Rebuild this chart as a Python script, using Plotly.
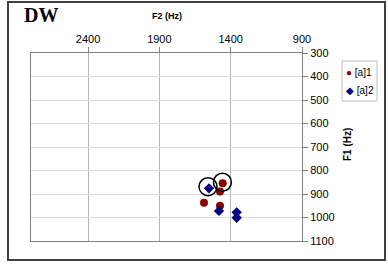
import plotly.graph_objects as go

# Data (F2, F1 in Hz)
series_names = ["[a]1", "[a]2"]
a1_f2 = [1456, 1475, 1587, 1475]
a1_f1 = [854, 889, 937, 950]
a2_f2 = [1552, 1482, 1358, 1358]
a2_f1 = [876, 972, 978, 1001]
ring_f2 = [1559, 1458]
ring_f1 = [869, 850]

x_ticks = [2400, 1900, 1400, 900]
y_ticks = [300, 400, 500, 600, 700, 800, 900, 1000, 1100]

RED, BLUE = "#8b0000", "#000080"
W, H = 388, 264
L, R, T, B = 31, 302, 53, 241
PW, PH = R - L, B - T


def px(x):
    return (x - L) / PW


def py(y):
    return (B - y) / PH


fig = go.Figure()
fig.add_trace(go.Scatter(x=a1_f2, y=a1_f1, mode="markers", name=series_names[0],
                         marker=dict(symbol="circle", size=8, color=RED)))
fig.add_trace(go.Scatter(x=a2_f2, y=a2_f1, mode="markers", name=series_names[1],
                         marker=dict(symbol="diamond", size=8, color=BLUE)))
fig.add_trace(go.Scatter(x=ring_f2, y=ring_f1, mode="markers", showlegend=False,
                         marker=dict(symbol="circle-open", size=18, color="#000000",
                                     line=dict(width=1.5, color="#000000"))))

fig.update_layout(
    width=W, height=H,
    margin=dict(l=L, r=W - R, t=T, b=H - B, autoexpand=False),
    paper_bgcolor="white", plot_bgcolor="white",
    font=dict(family="Liberation Sans, Arial, sans-serif", size=11, color="#000"),
    xaxis=dict(range=[2800, 900], side="top", tickvals=x_ticks,
               ticks="outside", ticklen=5, tickcolor="#808080",
               showgrid=True, gridcolor="#b4b4b4", gridwidth=1,
               showline=True, linecolor="#808080", linewidth=1, mirror=True,
               zeroline=False, tickfont=dict(size=11), automargin=False),
    yaxis=dict(range=[1100, 300], side="right", tickvals=y_ticks,
               ticks="outside", ticklen=5, tickcolor="#808080",
               showgrid=True, gridcolor="#dcdcdc", gridwidth=1,
               showline=True, linecolor="#808080", linewidth=1, mirror=True,
               zeroline=False, tickfont=dict(size=11), automargin=False),
    showlegend=False,
)

# Compact legend box (as in the reference)
fig.add_shape(type="rect", xref="paper", yref="paper",
              x0=px(342), x1=px(377), y0=py(101), y1=py(61),
              line=dict(color="#c0c0c0", width=1), fillcolor="white")
fig.add_annotation(x=px(344), y=py(72), xref="paper", yref="paper",
                   xanchor="left", yanchor="middle", showarrow=False,
                   text=f"<span style='color:{RED}'>●</span> {series_names[0]}",
                   font=dict(size=10, color="#000"))
fig.add_annotation(x=px(344), y=py(90), xref="paper", yref="paper",
                   xanchor="left", yanchor="middle", showarrow=False,
                   text=f"<span style='color:{BLUE}'>◆</span> {series_names[1]}",
                   font=dict(size=10, color="#000"))

fig.add_annotation(x=px(41), y=py(15), xref="paper", yref="paper",
                   xanchor="center", yanchor="middle",
                   text="<b>DW</b>", showarrow=False,
                   font=dict(family="Liberation Serif, Times New Roman, serif", size=20, color="#000"))
fig.add_annotation(x=px(167), y=py(16), xref="paper", yref="paper",
                   xanchor="center", yanchor="middle",
                   text="<b>F2 (Hz)</b>", showarrow=False,
                   font=dict(size=9, color="#000"))
fig.add_annotation(x=px(347), y=py(145), xref="paper", yref="paper",
                   xanchor="center", yanchor="middle",
                   text="<b>F1 (Hz)</b>", showarrow=False, textangle=-90,
                   font=dict(size=10, color="#000"))
fig.add_shape(type="rect", xref="paper", yref="paper",
              x0=px(8), x1=px(385), y0=py(260), y1=py(2),
              line=dict(color="#404040", width=2))

fig.write_html("out.html", post_script="document.body.style.margin='0';",
               config={"displayModeBar": False})
